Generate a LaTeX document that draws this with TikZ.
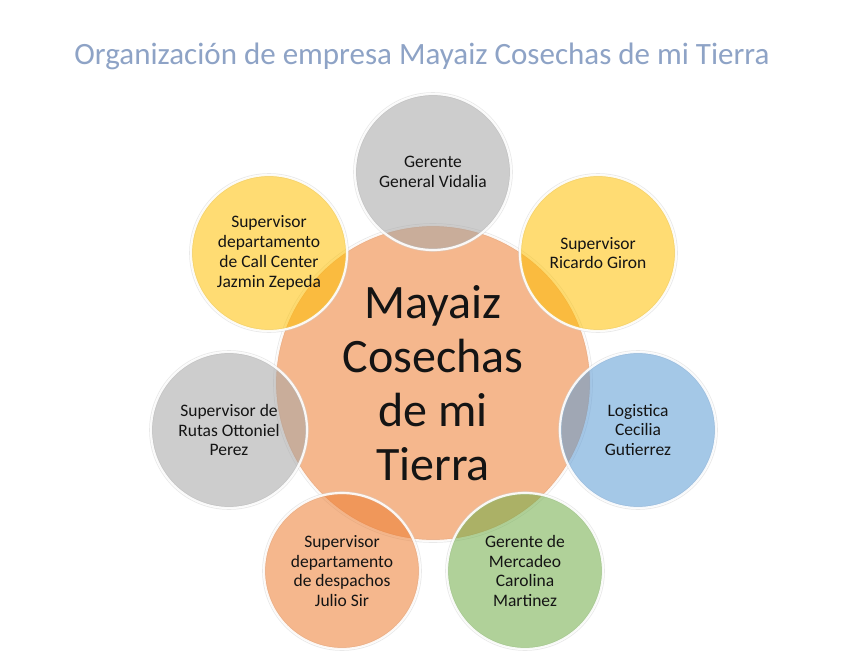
\documentclass[tikz,border=0pt]{standalone}
\usepackage{fontspec}
\setmainfont{Carlito}
\definecolor{titleblue}{HTML}{8EA3C6}
\definecolor{corange}{HTML}{ED7D31}
\definecolor{cgrey}{HTML}{A5A5A5}
\definecolor{cyellow}{HTML}{FFC000}
\definecolor{cblue}{HTML}{5B9BD5}
\definecolor{cgreen}{HTML}{70AD47}
\definecolor{txt}{HTML}{141414}
\tikzset{
  bubble/.style={circle, inner sep=0pt, minimum size=156pt, align=center,
    fill opacity=0.55, text opacity=1, draw=white, draw opacity=0.9, line width=2.2pt,
    preaction={draw=black!18, line width=3.6pt, draw opacity=0.5},
    text=txt, font=\fontsize{17.5}{19.8}\selectfont},
  bigbubble/.style={bubble, minimum size=316pt, font=\fontsize{48}{54}\selectfont}
}
\begin{document}
\begin{tikzpicture}[x=1pt,y=-1pt]
\useasboundingbox[fill=white] (0,0) rectangle (860,664);
\node[font=\fontsize{31}{36}\selectfont, text=titleblue] (title) at (422,56) {Organización de empresa Mayaiz Cosechas de mi Tierra};
\node[bigbubble, fill=corange] (c) at (433,383) {Mayaiz\\Cosechas\\de mi\\Tierra};
\node[bubble, fill=cgrey] (n1) at (433,172) {Gerente\\General Vidalia};
\node[bubble, fill=cyellow] (n2) at (598,253) {Supervisor\\Ricardo Giron};
\node[bubble, fill=cblue] (n3) at (638,430) {Logistica\\Cecilia\\Gutierrez};
\node[bubble, fill=cgreen] (n4) at (525,571) {Gerente de\\Mercadeo\\Carolina\\Martinez};
\node[bubble, fill=corange] (n5) at (342,571) {Supervisor\\departamento\\de despachos\\Julio Sir};
\node[bubble, fill=cgrey] (n6) at (229,430) {Supervisor de\\Rutas Ottoniel\\Perez};
\node[bubble, fill=cyellow] (n7) at (269,253) {Supervisor\\departamento\\de Call Center\\Jazmin Zepeda};
\end{tikzpicture}
\end{document}
